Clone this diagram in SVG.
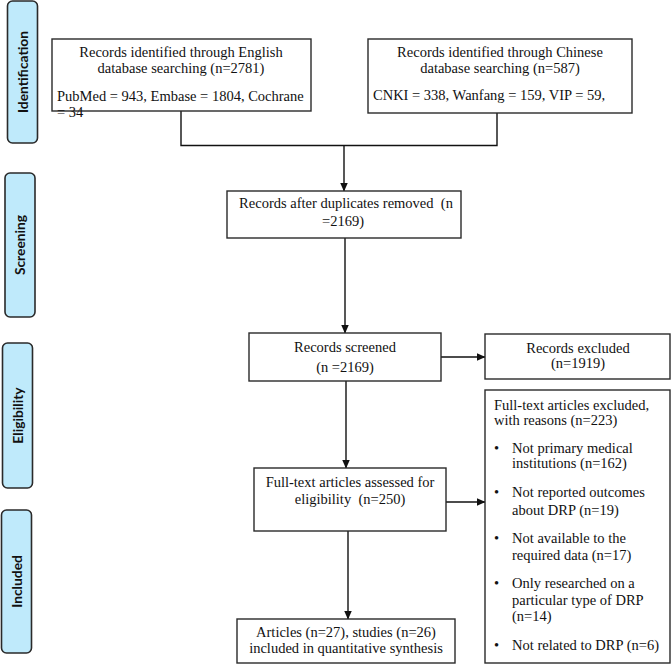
<svg xmlns="http://www.w3.org/2000/svg" width="671" height="664" viewBox="0 0 671 664">
<style>
.box{fill:#fff;stroke:#2a2a2a;stroke-width:1.4}
.phase{fill:#bfeafb;stroke:#2a2a2a;stroke-width:1.6}
.pt{font-family:Lato,"Liberation Sans",sans-serif;font-weight:700;font-size:13.8px;fill:#111;text-anchor:middle}
.t{font-family:"Liberation Serif","Times New Roman",serif;font-size:14.5px;fill:#111}
.c{text-anchor:middle}
.ln{fill:none;stroke:#111;stroke-width:1.4}
</style>
<defs>
<marker id="ah" markerWidth="9" markerHeight="8" refX="8.5" refY="4" orient="auto" markerUnits="userSpaceOnUse">
<path d="M0,0 L9,4 L0,8 Z" fill="#111"/>
</marker>
</defs>
<rect width="671" height="664" fill="#fff"/>
<g id="phase-identification"><rect class="phase" x="7.5" y="1" width="30" height="142" rx="5"/><text class="pt" transform="translate(27.5,72) rotate(-90)">Identification</text></g>
<g id="phase-screening"><rect class="phase" x="5" y="173" width="30" height="144" rx="5"/><text class="pt" transform="translate(25,245) rotate(-90)">Screening</text></g>
<g id="phase-eligibility"><rect class="phase" x="2.5" y="343" width="30" height="145" rx="5"/><text class="pt" transform="translate(22.5,415.5) rotate(-90)">Eligibility</text></g>
<g id="phase-included"><rect class="phase" x="1.5" y="510" width="30" height="143" rx="5"/><text class="pt" transform="translate(21.5,581.5) rotate(-90)">Included</text></g>

<g id="connectors">
<path class="ln" d="M181,111 V145.5 H497 V113"/>
<path class="ln" d="M344,145.5 V191" marker-end="url(#ah)"/>
<path class="ln" d="M345,238 V333" marker-end="url(#ah)"/>
<path class="ln" d="M441,357 H485" marker-end="url(#ah)"/>
<path class="ln" d="M346,381 V468" marker-end="url(#ah)"/>
<path class="ln" d="M446,502 H485" marker-end="url(#ah)"/>
<path class="ln" d="M348,531 V619" marker-end="url(#ah)"/>
</g>

<g id="english">
<rect class="box" x="52" y="39" width="259" height="72"/>
<text class="t c" x="181" y="57">Records identified through English</text>
<text class="t c" x="181" y="73">database searching (n=2781)</text>
<text class="t" x="57" y="101">PubMed = 943, Embase = 1804, Cochrane</text>
<text class="t" x="57" y="117">= 34</text>
</g>
<g id="chinese">
<rect class="box" x="368" y="39" width="264" height="74"/>
<text class="t c" x="500" y="57">Records identified through Chinese</text>
<text class="t c" x="500" y="73">database searching (n=587)</text>
<text class="t" x="373" y="100">CNKI = 338, Wanfang = 159, VIP = 59,</text>
</g>
<g id="duplicates">
<rect class="box" x="227" y="191" width="234" height="47"/>
<text class="t c" x="346" y="208" xml:space="preserve">Records after duplicates removed  (n</text>
<text class="t c" x="343" y="226">=2169)</text>
</g>
<g id="screened">
<rect class="box" x="249" y="333" width="192" height="48"/>
<text class="t c" x="345" y="352">Records screened</text>
<text class="t c" x="345" y="372">(n =2169)</text>
</g>
<g id="excluded">
<rect class="box" x="485" y="334" width="185" height="45"/>
<text class="t c" x="578" y="353">Records excluded</text>
<text class="t c" x="578" y="368">(n=1919)</text>
</g>
<g id="fulltext-assessed">
<rect class="box" x="254" y="468" width="192" height="63"/>
<text class="t c" x="350" y="487">Full-text articles assessed for</text>
<text class="t c" x="350" y="504" xml:space="preserve">eligibility  (n=250)</text>
</g>
<g id="fulltext-excluded">
<rect class="box" x="485" y="390" width="185" height="273"/>
<text class="t" x="494" y="410">Full-text articles excluded,</text>
<text class="t" x="494" y="425">with reasons (n=223)</text>
<text class="t" x="494" y="453">•</text><text class="t" x="512" y="453">Not primary medical</text>
<text class="t" x="512" y="468">institutions (n=162)</text>
<text class="t" x="494" y="497">•</text><text class="t" x="512" y="497">Not reported outcomes</text>
<text class="t" x="512" y="515">about DRP (n=19)</text>
<text class="t" x="494" y="543">•</text><text class="t" x="512" y="543">Not available to the</text>
<text class="t" x="512" y="560">required data (n=17)</text>
<text class="t" x="494" y="588">•</text><text class="t" x="512" y="588">Only researched on a</text>
<text class="t" x="512" y="605">particular type of DRP</text>
<text class="t" x="512" y="621">(n=14)</text>
<text class="t" x="494" y="650">•</text><text class="t" x="512" y="650">Not related to DRP (n=6)</text>
</g>
<g id="included">
<rect class="box" x="237" y="619" width="218" height="44"/>
<text class="t c" x="346" y="637">Articles (n=27), studies (n=26)</text>
<text class="t c" x="346" y="653">included in quantitative synthesis</text>
</g>
</svg>
